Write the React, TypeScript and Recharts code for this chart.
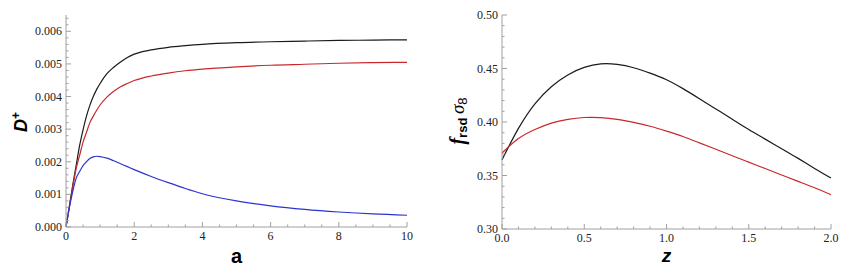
import React from 'react'
import { Label, Line, LineChart, XAxis, YAxis } from 'recharts'

// left panel: growth factor D+ against a
const A_VALUES = [0, 0.1, 0.2, 0.3, 0.4, 0.5, 0.6, 0.7, 0.8, 0.9, 1.0, 1.2, 1.4, 1.6, 1.8, 2, 2.5, 3, 3.5, 4, 5, 6, 7, 8, 9, 10]
const D_BLACK = [0, 0.00065, 0.0013, 0.0019, 0.0025, 0.00298, 0.0034, 0.00373, 0.004, 0.00422, 0.0044, 0.0047, 0.0049, 0.00506, 0.0052, 0.0053, 0.00543, 0.00551, 0.00556, 0.0056, 0.00565, 0.00568, 0.0057, 0.00572, 0.00573, 0.00574]
const D_RED = [0, 0.00063, 0.00124, 0.0018, 0.0022, 0.0026, 0.0029, 0.0032, 0.0034, 0.00358, 0.00374, 0.00398, 0.00416, 0.0043, 0.0044, 0.00449, 0.00463, 0.00472, 0.00479, 0.00484, 0.00491, 0.00496, 0.00499, 0.00502, 0.00504, 0.00505]
const D_BLUE = [0, 0.0006, 0.0011, 0.0015, 0.0017, 0.00188, 0.002, 0.0021, 0.00215, 0.00217, 0.00216, 0.00211, 0.00203, 0.00194, 0.00185, 0.00176, 0.00155, 0.00136, 0.00118, 0.00102, 0.0008, 0.00065, 0.00054, 0.00046, 0.0004, 0.00036]

// right panel: f_rsd sigma_8 against z
const Z_VALUES = [0, 0.1, 0.2, 0.3, 0.4, 0.5, 0.6, 0.7, 0.8, 0.9, 1.0, 1.1, 1.2, 1.3, 1.4, 1.5, 1.6, 1.7, 1.8, 1.9, 2.0]
const F_BLACK = [0.3647, 0.394, 0.417, 0.433, 0.444, 0.451, 0.4543, 0.4538, 0.4507, 0.4457, 0.4395, 0.4312, 0.4218, 0.4122, 0.4026, 0.393, 0.384, 0.375, 0.366, 0.3566, 0.3476]
const F_RED = [0.371, 0.3845, 0.393, 0.399, 0.4025, 0.4042, 0.4041, 0.4025, 0.3996, 0.396, 0.3915, 0.3865, 0.3805, 0.3745, 0.3685, 0.3625, 0.3565, 0.3505, 0.3445, 0.3385, 0.332]

const A_MAJOR = [0, 2, 4, 6, 8, 10]
const D_MAJOR = [0, 0.001, 0.002, 0.003, 0.004, 0.005, 0.006]
const Z_MAJOR = [0, 0.5, 1.0, 1.5, 2.0]
const F_MAJOR = [0.3, 0.35, 0.4, 0.45, 0.5]

const BLACK = '#1b1b1b'
const RED = '#c8282c'
const BLUE = '#2b35cc'
const FRAME = '#a0a0a0'
const SERIF = '"Liberation Serif", "Times New Roman", serif'
const SANS = '"Liberation Sans", Arial, sans-serif'

const steps = (from: number, to: number, step: number) => {
  const out: number[] = []
  const n = Math.round((to - from) / step)
  for (let i = 0; i <= n; i++) out.push(+(from + i * step).toFixed(6))
  return out
}

const isMajor = (v: number, major: number[]) => major.some((m) => Math.abs(m - v) < 1e-9)

const MAJOR_LEN = 5
const MINOR_LEN = 2.5

type Side = 'bottom' | 'top' | 'left' | 'right'

const tickText = { fontFamily: SERIF, fontSize: 12, fill: '#222' }

function makeTick(side: Side, major: number[], fmt?: (v: number) => string) {
  return (props: any) => {
    const { x, y, payload } = props
    const v = payload.value as number
    const big = isMajor(v, major)
    const len = big ? MAJOR_LEN : MINOR_LEN
    let line
    if (side === 'bottom') line = <line x1={x} x2={x} y1={y} y2={y - len} stroke={FRAME} />
    else if (side === 'top') line = <line x1={x} x2={x} y1={y} y2={y + len} stroke={FRAME} />
    else if (side === 'left') line = <line x1={x} x2={x + len} y1={y} y2={y} stroke={FRAME} />
    else line = <line x1={x} x2={x - len} y1={y} y2={y} stroke={FRAME} />
    let label = null
    if (big && fmt && side === 'bottom')
      label = (
        <text x={x} y={y + 13} textAnchor="middle" style={tickText}>
          {fmt(v)}
        </text>
      )
    if (big && fmt && side === 'left')
      label = (
        <text x={x - 4} y={y + 4} textAnchor="end" style={tickText}>
          {fmt(v)}
        </text>
      )
    return (
      <g>
        {line}
        {label}
      </g>
    )
  }
}

function DLabel() {
  return (
    <text
      x={27}
      y={122}
      transform="rotate(-90, 27, 122)"
      textAnchor="middle"
      style={{ fontFamily: SANS, fontWeight: 'bold', fontStyle: 'italic', fontSize: 18, fill: '#000' }}
    >
      D<tspan style={{ fontSize: 12, fontStyle: 'normal' }} dy={-7}>+</tspan>
    </text>
  )
}

function FLabel() {
  return (
    <text
      x={34}
      y={121}
      transform="rotate(-90, 34, 121)"
      textAnchor="middle"
      style={{ fontFamily: SANS, fontWeight: 'bold', fill: '#000' }}
    >
      <tspan style={{ fontFamily: SERIF, fontStyle: 'italic', fontSize: 20 }}>f</tspan>
      <tspan style={{ fontSize: 13 }} dy={3}>rsd</tspan>
      <tspan style={{ fontSize: 13 }} dy={-3}> </tspan>
      <tspan style={{ fontFamily: SERIF, fontStyle: 'italic', fontWeight: 'normal', fontSize: 19 }}>σ</tspan>
      <tspan style={{ fontSize: 13, fontWeight: 'normal' }} dy={3}>8</tspan>
    </text>
  )
}

export default function App() {
  const leftData = A_VALUES.map((a, i) => ({ a, black: D_BLACK[i], red: D_RED[i], blue: D_BLUE[i] }))
  const rightData = Z_VALUES.map((z, i) => ({ z, black: F_BLACK[i], red: F_RED[i] }))

  const aTicks = steps(0, 10, 0.5)
  const dTicks = steps(0, 0.0064, 0.0002)
  const zTicks = steps(0, 2, 0.1)
  const fTicks = steps(0.3, 0.5, 0.01)

  return (
    <div style={{ position: 'absolute', left: 0, top: 0, width: 862, height: 272, background: '#fff' }}>
      <div style={{ position: 'absolute', left: 0, top: 0 }}>
        <LineChart width={430} height={272} data={leftData} margin={{ top: 15, right: 23, bottom: 0, left: 0 }}>
          <XAxis
            xAxisId="b"
            dataKey="a"
            type="number"
            domain={[0, 10]}
            ticks={aTicks}
            interval={0}
            height={45}
            tickSize={0}
            tickMargin={0}
            tickLine={false}
            axisLine={{ stroke: FRAME }}
            tick={makeTick('bottom', A_MAJOR, (v) => String(v))}
          >
            <Label
              value="a"
              position="insideBottom"
              offset={9}
              style={{ fontFamily: SANS, fontWeight: 'bold', fontSize: 20, fill: '#000' }}
            />
          </XAxis>
          <XAxis
            xAxisId="t"
            orientation="top"
            dataKey="a"
            type="number"
            domain={[0, 10]}
            ticks={aTicks}
            interval={0}
            height={0}
            tickSize={0}
            tickMargin={0}
            tickLine={false}
            axisLine={{ stroke: FRAME }}
            tick={makeTick('top', A_MAJOR)}
          />
          <YAxis
            yAxisId="l"
            type="number"
            domain={[0, 0.0065]}
            ticks={dTicks}
            interval={0}
            width={66}
            tickSize={0}
            tickMargin={0}
            tickLine={false}
            axisLine={{ stroke: FRAME }}
            tick={makeTick('left', D_MAJOR, (v) => v.toFixed(3))}
            label={<DLabel />}
          />
          <YAxis
            yAxisId="r"
            orientation="right"
            type="number"
            domain={[0, 0.0065]}
            ticks={dTicks}
            interval={0}
            width={0}
            tickSize={0}
            tickMargin={0}
            tickLine={false}
            axisLine={{ stroke: FRAME }}
            tick={makeTick('right', D_MAJOR)}
          />
          <Line xAxisId="b" yAxisId="l" type="monotone" dataKey="black" stroke={BLACK} strokeWidth={1.2} dot={false} isAnimationActive={false} />
          <Line xAxisId="b" yAxisId="l" type="monotone" dataKey="red" stroke={RED} strokeWidth={1.2} dot={false} isAnimationActive={false} />
          <Line xAxisId="b" yAxisId="l" type="monotone" dataKey="blue" stroke={BLUE} strokeWidth={1.2} dot={false} isAnimationActive={false} />
        </LineChart>
      </div>
      <div style={{ position: 'absolute', left: 430, top: 0 }}>
        <LineChart width={432} height={272} data={rightData} margin={{ top: 15, right: 31, bottom: 0, left: 0 }}>
          <XAxis
            xAxisId="b"
            dataKey="z"
            type="number"
            domain={[0, 2]}
            ticks={zTicks}
            interval={0}
            height={43}
            tickSize={0}
            tickMargin={0}
            tickLine={false}
            axisLine={{ stroke: FRAME }}
            tick={makeTick('bottom', Z_MAJOR, (v) => v.toFixed(1))}
          >
            <Label
              value="z"
              position="insideBottom"
              offset={10}
              style={{ fontFamily: SANS, fontWeight: 'bold', fontStyle: 'italic', fontSize: 19, fill: '#000' }}
            />
          </XAxis>
          <XAxis
            xAxisId="t"
            orientation="top"
            dataKey="z"
            type="number"
            domain={[0, 2]}
            ticks={zTicks}
            interval={0}
            height={0}
            tickSize={0}
            tickMargin={0}
            tickLine={false}
            axisLine={{ stroke: FRAME }}
            tick={makeTick('top', Z_MAJOR)}
          />
          <YAxis
            yAxisId="l"
            type="number"
            domain={[0.3, 0.5]}
            ticks={fTicks}
            interval={0}
            width={72}
            tickSize={0}
            tickMargin={0}
            tickLine={false}
            axisLine={{ stroke: FRAME }}
            tick={makeTick('left', F_MAJOR, (v) => v.toFixed(2))}
            label={<FLabel />}
          />
          <YAxis
            yAxisId="r"
            orientation="right"
            type="number"
            domain={[0.3, 0.5]}
            ticks={fTicks}
            interval={0}
            width={0}
            tickSize={0}
            tickMargin={0}
            tickLine={false}
            axisLine={{ stroke: FRAME }}
            tick={makeTick('right', F_MAJOR)}
          />
          <Line xAxisId="b" yAxisId="l" type="natural" dataKey="black" stroke={BLACK} strokeWidth={1.2} dot={false} isAnimationActive={false} />
          <Line xAxisId="b" yAxisId="l" type="natural" dataKey="red" stroke={RED} strokeWidth={1.2} dot={false} isAnimationActive={false} />
        </LineChart>
      </div>
    </div>
  )
}
